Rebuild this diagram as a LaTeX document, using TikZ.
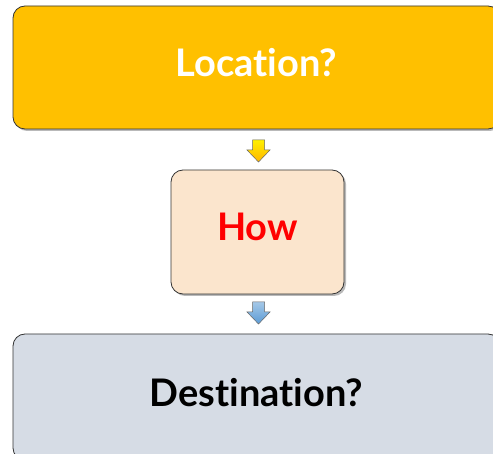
\documentclass[tikz,border=0pt]{standalone}
\usepackage{fontspec}
\setmainfont[Ligatures=NoCommon]{Lato}
\usetikzlibrary{positioning}
\usetikzlibrary{shadows}

\definecolor{locfill}{HTML}{FFC000}
\definecolor{howfill}{HTML}{FBE5CD}
\definecolor{destfill}{HTML}{D6DCE5}
\definecolor{arrowblue}{HTML}{5B9BD5}

\begin{document}
\begin{tikzpicture}[
        x=1pt,y=-1pt,
        box/.style={draw=black!80,line width=0.8pt,rounded corners=12pt,
          drop shadow={shadow xshift=2pt,shadow yshift=-2pt,opacity=0.55},
          font=\bfseries\fontsize{38}{40}\selectfont,inner sep=0pt,text depth=10pt},
        flowarrow/.style={draw=black!60,line width=0.5pt,line join=miter}
      ]
        \useasboundingbox (0,0) rectangle (493,454);
        \clip (0,0) rectangle (493,454);
        \node[box,fill=locfill,text=white,minimum width=487pt,minimum height=123pt]
          (loc) at (256.5,67.5) {Location?};
        \node[box,fill=howfill,text=red,minimum width=173pt,minimum height=124pt]
          (how) at (257.5,232) {How};
        \node[box,fill=destfill,text=black,minimum width=487pt,minimum height=126pt]
          (dest) at (256.5,397) {Destination?};
        % arrows between the boxes
        \coordinate (a1) at (258.5,140);
        \coordinate (a2) at (258.5,302);
        \path[flowarrow,top color=yellow!75!locfill,bottom color=locfill!85!orange]
          (a1) ++(-6,0) -- ++(12,0) -- ++(0,10) -- ++(5.5,0) -- ++(-11.5,12)
          -- ++(-11.5,-12) -- ++(5.5,0) -- cycle;
        \path[flowarrow,top color=arrowblue!55,bottom color=arrowblue]
          (a2) ++(-6,0) -- ++(12,0) -- ++(0,10) -- ++(5.5,0) -- ++(-11.5,12)
          -- ++(-11.5,-12) -- ++(5.5,0) -- cycle;
      \end{tikzpicture}
\end{document}
